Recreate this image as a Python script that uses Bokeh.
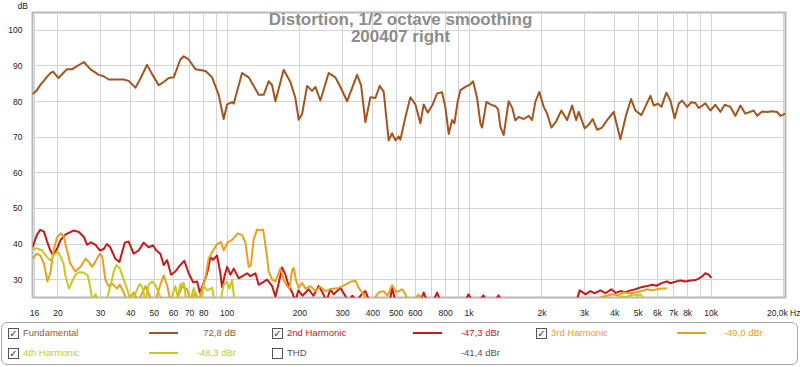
from bokeh.plotting import figure
from bokeh.models import Range1d, FixedTicker, Label, Title, Div
from bokeh.layouts import column
from bokeh.embed import file_html
from bokeh.resources import INLINE

FONT = "Liberation Sans"

# ---------------- data ----------------
fund_freq = [15.7, 16.3, 16.9, 17.8, 18.6, 19.1, 20.1, 20.9, 21.8, 22.9, 23.8, 25.6, 27.2, 29.5, 30.9,
             32.4, 34.5, 37.4, 39.2, 41.8, 43.8, 46.7, 49.0, 52.2, 54.7, 57.4, 60.2, 64.1, 66.2, 69.4,
             74.0, 81.4, 86.7, 92.3, 96.8, 100, 104.9, 106.5, 115.3, 122.8, 135.1, 141.6, 148.6, 153.5,
             158.4, 171.3, 182.6, 191.5, 197.7, 204.2, 214.1, 224.5, 231.7, 242.9, 262.9, 280.3, 293.9,
             313.3, 344.5, 357.8, 372.8, 390.9, 410.0, 427.2, 443.7, 465.3, 480.6, 496.0, 511.8, 520.1,
             545.5, 571.9, 600.0, 629.3, 649.3, 674.5, 707.4, 737.7, 773.6, 798.4, 823.8, 850.9, 869.7,
             897.4, 920.7, 965.4, 1012, 1039, 1079, 1114, 1132, 1179, 1225, 1284, 1318, 1347, 1390,
             1457, 1506, 1554, 1603, 1681, 1764, 1821, 1879, 1952, 2034, 2101, 2188, 2288, 2406, 2541,
             2665, 2768, 2838, 3005, 3122, 3242, 3380, 3545, 3717, 3958, 4220, 4455, 4670, 4866, 5152,
             5613, 5792, 6039, 6231, 6535, 6788, 7072, 7346, 7590, 7959, 8290, 8611, 8886, 9472, 9933,
             10420, 10926, 11383, 12018, 12600, 13216, 13863, 14997, 15495, 16243, 17034, 17870, 18739,
             19340, 20300]
fund_db = [82.1, 83.0, 84.6, 86.5, 88.0, 88.4, 86.6, 87.8, 89.1, 89.1, 89.8, 91.1, 89.1, 87.5, 87.1,
           86.2, 86.2, 86.2, 85.8, 83.9, 86.4, 90.3, 87.7, 84.6, 85.5, 86.6, 86.8, 91.8, 92.7, 91.8,
           89.1, 88.6, 86.8, 81.9, 75.1, 79.2, 79.8, 79.4, 88.0, 86.8, 81.9, 81.9, 85.7, 84.6,
           80.1, 88.9, 85.5, 81.0, 74.9, 76.5, 84.4, 83.0, 84.1, 80.3, 88.0, 86.8, 84.1,
           80.1, 87.5, 84.6, 74.2, 81.2, 81.0, 84.4, 82.8, 69.1, 71.1, 69.1, 70.2, 69.3,
           75.6, 81.2, 79.2, 73.9, 79.2, 76.9, 79.2, 82.3, 82.6, 78.3, 70.9, 74.8, 73.9,
           80.1, 83.2, 84.1, 84.8, 85.7, 81.0, 73.8, 72.7, 79.9, 79.2, 78.7, 77.8, 72.9, 70.6,
           80.1, 78.3, 74.7, 75.7, 75.1, 76.0, 74.8, 80.0, 82.7, 78.5, 76.6, 72.7, 74.4, 77.5, 74.8,
           78.9, 74.8, 77.1, 72.5, 73.5, 75.1, 72.1, 72.7, 74.8, 77.1, 69.4, 76.2, 80.7, 77.5, 76.2,
           81.6, 78.9, 79.4, 78.5, 82.5, 80.3, 75.3, 79.4, 80.3, 78.5, 79.8, 79.6, 78.2, 79.5, 77.5,
           79.1, 77.1, 79.1, 78.5, 76.0, 78.9, 76.6, 77.5, 76.0, 77.2, 77.1, 77.3, 77.1,
           76.0, 76.6]

h2_freq = [15.7, 16.4, 16.9, 17.5, 18.0, 18.6, 19.1, 19.8, 20.5, 21.5, 23.2, 24.4, 25.6, 26.4, 27.4,
           28.6, 29.8, 30.9, 31.9, 32.9, 34.5, 35.9, 37.8, 39.2, 41.1, 43.1, 45.2, 47.4, 49.5, 51.0,
           53.0, 54.7, 56.5, 58.7, 61.1, 63.5, 66.6, 69.4, 72.4, 75.2, 77.1, 79.6, 82.7, 85.3, 87.5,
           90.9, 93.8, 95.3, 97.5, 100, 103.2, 106.5, 111.7, 117.1, 120.9, 124.8, 130.9, 135.1, 139.5,
           146.3, 153.5, 158.4, 163.4, 168.8, 174.2, 179.7, 185.6, 191.5, 197.1, 204.8, 217.5, 227.4,
           239.0, 247.6, 257.2, 267.2, 275.7, 293.9, 303.3, 317.2, 329.5, 342.3, 358.9, 372.8, 384.7,
           410, 465.3, 480.6, 496, 571.9, 629.3, 649.3, 670.6, 712.2, 737.7, 761.2, 877.9, 965.4, 995,
           1032, 1114, 1146, 1179, 1284, 1325, 1360, 1500, 2698, 2795, 2864, 2938, 3024, 3171, 3294,
           3488, 3658, 3873, 4024, 4220, 4425, 4639, 4866, 5152, 5440, 5705, 5943, 6275, 6579, 6788,
           7120, 7466, 7832, 8213, 8611, 8886, 9180, 9472, 9775, 10028]
h2_db = [39.1, 42.7, 44.0, 43.5, 40.9, 38.2, 36.8, 38.6, 41.1, 42.7, 43.8, 43.4, 42.0, 39.8, 40.5,
         39.8, 38.2, 38.6, 40.0, 39.1, 35.9, 35.0, 40.4, 40.7, 37.3, 38.2, 40.4, 39.1, 39.6, 38.2,
         37.3, 34.1, 35.5, 31.4, 32.3, 33.8, 35.3, 31.8, 29.3, 29.5, 26.4, 28.6, 31.8, 36.3, 35.6,
         36.8, 31.8, 27.9, 30.9, 33.6, 31.4, 33.1, 30.4, 31.2, 31.8, 31.0, 31.8, 28.6, 29.1,
         30.0, 28.2, 25.3, 29.0, 33.4, 31.4, 28.2, 26.5, 24.0, 27.0, 25.5, 27.3, 25.5,
         28.2, 26.5, 24.0, 27.3, 25.9, 27.7, 26.2, 24.0, 25.5, 24.0, 25.8, 26.8, 24.5,
         22.0, 22.0, 27.7, 24.0, 22.0, 24.0, 26.4, 24.0, 24.0, 26.4, 24.0, 22.0, 24.2, 25.9,
         24.0, 24.5, 25.6, 24.0, 24.3, 25.6, 24.0, 22.0, 22.0, 24.5, 27.0, 26.5, 25.9, 26.8, 26.2,
         27.0, 26.2, 27.3, 26.3, 26.8, 26.5, 27.0, 27.3, 27.9, 28.2, 28.6, 28.3, 29.1, 29.5, 29.0,
         29.4, 29.8, 29.5, 29.8, 29.9, 30.3, 30.9, 31.8, 31.4, 30.5]

h3_freq = [15.7, 16.4, 16.9, 17.5, 18.1, 18.6, 19.2, 19.8, 20.5, 21.1, 21.8, 22.5, 23.6, 24.8, 26.0,
           26.8, 27.7, 28.8, 29.8, 30.5, 31.4, 32.4, 33.6, 35.1, 36.0, 37.4, 38.7, 41.1, 43.0, 46.0,
           48.2, 50.5, 53.0, 54.7, 56.5, 58.3, 61.7, 65.2, 68.3, 70.5, 74.0, 76.3, 78.8, 81.4, 83.9,
           86.7, 90.9, 94.4, 96.8, 100.6, 104.9, 110.6, 115.3, 119.0, 122.8, 125.4, 128.8, 133.1,
           137.3, 140.9, 145.4, 148.6, 153.5, 158.4, 166.1, 171.3, 177.0, 180.9, 185.6, 188.4, 193.3,
           197.7, 204.2, 210.7, 221.0, 231.7, 242.9, 254.7, 267.2, 289.2, 308.2, 323.2, 339.0, 349.8,
           366.9, 380.1, 398.6, 423.0, 443.7, 459.6, 480.6, 500.9, 528.6, 545.5, 561.2, 588.6, 617.3,
           635.3, 659.9, 761.2, 3171, 3380, 3545, 3717, 3899, 4101, 4355, 4597, 4866, 5187, 5440,
           5705, 5983, 6275, 6579]
h3_db = [35.9, 37.3, 36.8, 34.5, 29.5, 31.8, 38.2, 41.8, 43.0, 42.3, 38.2, 34.5, 32.3, 33.6, 35.9,
         35.0, 33.6, 35.5, 37.3, 36.5, 30.0, 28.2, 28.8, 27.5, 28.6, 26.4, 24.0, 26.4, 24.0, 28.2,
         25.0, 24.0, 28.6, 31.2, 28.5, 24.0, 24.0, 28.2, 27.3, 24.0, 26.4, 24.0, 27.3, 30.5, 35.9,
         37.7, 40.0, 40.6, 38.2, 40.5, 41.2, 43.0, 42.5, 40.5, 33.6, 34.0, 41.4, 44.1,
         43.9, 44.1, 37.7, 32.3, 30.0, 29.5, 33.2, 30.0, 28.2, 27.5, 32.7, 33.3, 29.5,
         27.7, 29.1, 27.5, 28.2, 26.8, 28.0, 26.8, 27.3, 27.7, 28.6, 29.4, 29.7, 27.7,
         25.9, 24.0, 24.0, 26.4, 26.8, 25.5, 28.5, 26.5, 27.3, 25.9, 24.0, 24.0, 25.8,
         25.0, 23.0, 22.0, 22.0, 24.5, 25.2, 25.5, 25.9, 25.6, 26.4, 26.2, 26.4, 26.8, 27.3,
         27.0, 27.3, 27.5, 27.5]

h4_freq = [15.7, 16.4, 17.2, 18.0, 18.6, 19.2, 19.8, 20.1, 20.8, 21.1, 21.5, 22.2, 22.9, 23.6, 24.4,
           25.6, 26.5, 27.1, 27.7, 28.6, 29.4, 31.4, 32.4, 33.3, 34.0, 34.9, 36.0, 37.4, 38.6, 39.9,
           41.1, 42.5, 43.6, 44.7, 46.0, 47.4, 49.0, 50.5, 52.7, 54.6, 58.3, 61.1, 62.6, 64.1, 66.2,
           67.9, 70.5, 72.8, 75.0, 77.6, 80.1, 82.9, 86.7, 88.6, 93.8, 96.8, 100.0, 102.2, 104.9,
           107.2, 113.5, 3837, 4024, 4220, 4498, 4788, 4961, 5106, 5302, 5507]
h4_db = [38.6, 38.8, 38.2, 36.4, 35.4, 36.8, 37.7, 37.7, 35.5, 34.5, 30.9, 27.5, 29.5, 31.4, 32.1,
         32.0, 31.3, 28.5, 24.5, 25.9, 24.0, 23.0, 26.4, 29.5, 32.3, 34.1, 33.2, 30.0, 27.5, 24.0,
         25.0, 27.3, 28.8, 27.8, 24.0, 28.6, 29.5, 28.6, 25.5, 24.0, 24.0, 28.2, 25.0, 28.6, 29.1,
         24.0, 24.0, 27.7, 24.0, 24.0, 28.2, 27.0, 27.7, 24.0, 24.0, 28.6, 29.4, 27.5, 30.0,
         24.0, 22.0, 22.0, 24.5, 25.3, 25.2, 25.9, 25.5, 25.9, 24.5, 22.0]

x_ticks = [16, 20, 30, 40, 50, 60, 70, 80, 90, 100, 200, 300, 400, 500, 600, 700, 800, 900,
           1000, 2000, 3000, 4000, 5000, 6000, 7000, 8000, 9000, 10000, 20000]
x_tick_labels = ["16", "20", "30", "40", "50", "60", "70", "80", "", "100", "200", "300", "400",
                 "500", "600", "", "800", "", "1k", "2k", "3k", "4k", "5k", "6k", "7k", "8k", "",
                 "10k", "20,0k Hz"]
y_ticks = [30, 40, 50, 60, 70, 80, 90, 100]

title_lines = ["Distortion, 1/2 octave smoothing", "200407 right"]

legend_names = ["Fundamental", "2nd Harmonic", "3rd Harmonic", "4th Harmonic", "THD"]
legend_values = ["72,8 dB", "-47,3 dBr", "-49,0 dBr", "-48,3 dBr", "-41,4 dBr"]
legend_checked = [True, True, True, True, False]
colors = ["#a4541f", "#c81818", "#e8a01e", "#c8c81e", "#555555"]

# ---------------- main chart ----------------
p = figure(width=800, height=320, x_axis_type="log",
           x_range=Range1d(15.7, 20300), y_range=Range1d(25, 105),
           output_backend="svg", toolbar_location=None,
           min_border_left=32, min_border_right=15, min_border_top=12, min_border_bottom=15)
p.background_fill_color = "white"
p.border_fill_color = "white"
p.outline_line_color = "#b8b8b8"
p.outline_line_width = 2

p.add_layout(Title(text="dB", align="left", offset=-15, standoff=0,
                   text_font=FONT, text_font_size="8.5px", text_font_style="normal",
                   text_color="#222222", vertical_align="top"), "above")

p.xaxis.ticker = FixedTicker(ticks=x_ticks)
p.xaxis.major_label_overrides = {t: lab for t, lab in zip(x_ticks, x_tick_labels)}
p.yaxis.ticker = FixedTicker(ticks=y_ticks)
for ax in (p.xaxis, p.yaxis):
    ax.axis_line_color = None
    ax.major_tick_line_color = None
    ax.minor_tick_line_color = None
    ax.major_label_text_font = FONT
    ax.major_label_text_font_size = "8.5px"
    ax.major_label_text_color = "#222222"
p.xaxis.major_label_standoff = 4
p.yaxis.major_label_standoff = 4
p.grid.grid_line_color = "#d3d3d3"
p.grid.grid_line_width = 1

series = [(fund_freq, fund_db), (h2_freq, h2_db), (h3_freq, h3_db), (h4_freq, h4_db)]
for (fx, fy), c in zip(series, colors[:4]):
    p.line(fx, fy, line_width=2, line_color=c, line_join="round")

for txt, yb in zip(title_lines, [278.5, 260.8]):
    p.add_layout(Label(x=368, y=yb, x_units="screen", y_units="screen", text=txt,
                       text_font=FONT, text_font_size="17px", text_font_style="bold",
                       text_color="#8c8c8c", text_align="center", text_baseline="alphabetic"))

# ---------------- legend panel (HTML, real text) ----------------
col_x = [8, 272, 536]          # checkbox left per column
swatch_x = [149, 413, 677]
value_right = [236, 500, 763]
row_c = [13.5, 33.5]           # row centres from top of panel
slots = [(0, 0), (0, 1), (0, 2), (1, 0), (1, 1)]

parts = ['<div style="position:relative;width:800px;height:47px;font-family:\'Liberation Sans\';'
         'font-size:9.5px;line-height:12px;">',
         '<div style="position:absolute;left:1px;top:2px;width:797px;height:43px;box-sizing:border-box;'
         'border:1px solid #a8a8a8;border-radius:6px;"></div>']
for i, (name, val, chk, c) in enumerate(zip(legend_names, legend_values, legend_checked, colors)):
    r, k = slots[i]
    yc = row_c[r]
    cx = col_x[k]
    mark = "\u2713" if chk else ""
    parts.append('<div style="position:absolute;left:%dpx;top:%dpx;width:11px;height:11px;'
                 'box-sizing:border-box;border:1px solid #555;background:#fff;color:#333;'
                 'font-family:\'DejaVu Sans\';font-size:10px;line-height:9px;text-align:center;">%s</div>'
                 % (cx, int(yc - 5.5), mark))
    parts.append('<div style="position:absolute;left:%dpx;top:%dpx;color:%s;white-space:nowrap;">%s</div>'
                 % (cx + 15, int(yc - 6), c, name))
    if name != "THD":
        parts.append('<div style="position:absolute;left:%dpx;top:%dpx;width:29px;height:2px;'
                     'background:%s;"></div>' % (swatch_x[k], int(yc - 1), c))
    parts.append('<div style="position:absolute;right:%dpx;top:%dpx;color:%s;white-space:nowrap;'
                 'text-align:right;">%s</div>' % (800 - value_right[k], int(yc - 6), c, val))
parts.append('</div>')

lg = Div(text="".join(parts), width=800, height=47, margin=0)

layout = column(p, lg, spacing=0)
open("out.html", "w").write(file_html(layout, INLINE))
